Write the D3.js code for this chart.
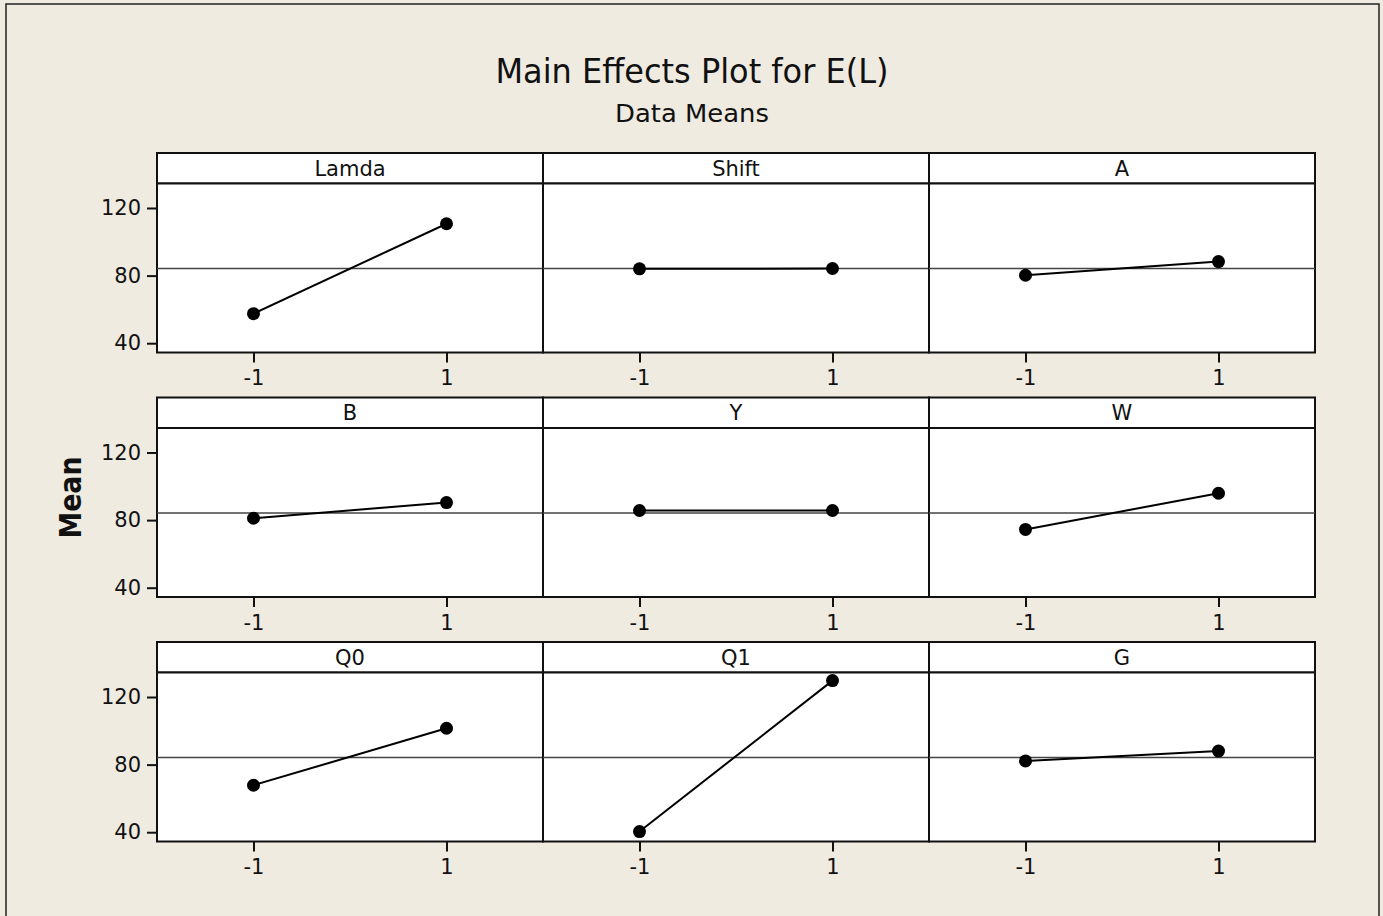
<!DOCTYPE html>
<html>
<head>
<meta charset="utf-8">
<script src="https://cdn.jsdelivr.net/npm/d3@7"></script>
<style>
  html, body { margin: 0; padding: 0; background: #efebe1; }
  svg { display: block; }
  text { font-family: "DejaVu Sans", Verdana, sans-serif; fill: #111; }
  .axis path { display: none; }
  .axis line { stroke: #111; stroke-width: 2; }
  .axis text { font-size: 21px; fill: #111; }
</style>
</head>
<body>
<div id="chart"></div>
<script>
// factor names, in panel order (3 x 3 grid)
var factors = ["Lamda", "Shift", "A", "B", "Y", "W", "Q0", "Q1", "G"];
var levels = [-1, 1];
// mean of E(L) at level -1 and at level 1
var meansLow  = [57.5, 84.0, 80.2, 81.1, 85.7, 74.5, 67.8, 40.4, 82.2];
var meansHigh = [110.7, 84.2, 88.3, 90.4, 85.7, 95.9, 101.5, 129.7, 88.0];
var grandMean = 84.2;
var yTicks = [40, 80, 120];
var xTicks = [-1, 1];

var W = 1383, H = 916;
var cellW = 386, stripH = 30.5, plotH = 169;
var left = 157, top0 = 153, rowStep = 244.5;
var ncol = 3;

var svg = d3.select("#chart").append("svg")
    .attr("width", W)
    .attr("height", H);

svg.append("rect")
    .attr("width", W).attr("height", H)
    .attr("fill", "#efebe1");
// outer frame
svg.append("rect")
    .attr("x", 6).attr("y", 4)
    .attr("width", 1373).attr("height", 930)
    .attr("fill", "none")
    .attr("stroke", "#222")
    .attr("stroke-width", 1.5);

svg.append("text")
    .attr("x", 692).attr("y", 83)
    .attr("text-anchor", "middle")
    .attr("font-size", 34)
    .attr("textLength", 393)
    .attr("lengthAdjust", "spacingAndGlyphs")
    .text("Main Effects Plot for E(L)");
svg.append("text")
    .attr("x", 692).attr("y", 122)
    .attr("text-anchor", "middle")
    .attr("font-size", 25)
    .attr("textLength", 154)
    .attr("lengthAdjust", "spacingAndGlyphs")
    .text("Data Means");
svg.append("text")
    .attr("transform", "translate(81,497.5) rotate(-90)")
    .attr("text-anchor", "middle")
    .attr("font-size", 31)
    .attr("font-weight", "bold")
    .attr("textLength", 82)
    .attr("lengthAdjust", "spacingAndGlyphs")
    .text("Mean");

var x = d3.scaleLinear().domain([-2, 2]).range([0, cellW]);
var y = d3.scaleLinear().domain([34.5, 134.5]).range([plotH, 0]);

var panels = factors.map(function(f, i) {
    return {
        name: f,
        col: i % ncol,
        row: Math.floor(i / ncol),
        pts: [{lvl: levels[0], m: meansLow[i]}, {lvl: levels[1], m: meansHigh[i]}]
    };
});

var g = svg.selectAll("g.panel")
    .data(panels)
    .enter().append("g")
    .attr("class", "panel")
    .attr("transform", function(d) {
        return "translate(" + (left + d.col * cellW) + "," + (top0 + d.row * rowStep) + ")";
    });

// strip
g.append("rect")
    .attr("width", cellW).attr("height", stripH)
    .attr("fill", "#fff")
    .attr("stroke", "#111").attr("stroke-width", 2);
g.append("text")
    .attr("x", cellW / 2).attr("y", stripH / 2 + 7.5)
    .attr("text-anchor", "middle")
    .attr("font-size", 21)
    .text(function(d) { return d.name; });

var p = g.append("g").attr("transform", "translate(0," + stripH + ")");
p.append("rect")
    .attr("width", cellW).attr("height", plotH)
    .attr("fill", "#fff")
    .attr("stroke", "#111").attr("stroke-width", 2);

// reference line at overall mean
p.append("line")
    .attr("x1", 0).attr("x2", cellW)
    .attr("y1", y(grandMean)).attr("y2", y(grandMean))
    .attr("stroke", "#444").attr("stroke-width", 1.6);

var line = d3.line()
    .x(function(d) { return x(d.lvl); })
    .y(function(d) { return y(d.m); });
p.append("path")
    .attr("d", function(d) { return line(d.pts); })
    .attr("fill", "none")
    .attr("stroke", "#000").attr("stroke-width", 2);
p.selectAll("circle")
    .data(function(d) { return d.pts; })
    .enter().append("circle")
    .attr("cx", function(d) { return x(d.lvl); })
    .attr("cy", function(d) { return y(d.m); })
    .attr("r", 6.5)
    .attr("fill", "#000");

// plain hyphen for negatives, like the original
var fmt = function(d) { return String(d); };

p.append("g")
    .attr("class", "axis")
    .attr("transform", "translate(0," + plotH + ")")
    .each(function() {
        d3.select(this).call(d3.axisBottom(x).tickValues(xTicks).tickFormat(fmt).tickSize(10).tickPadding(8));
    });

p.filter(function(d) { return d.col == 0; })
    .append("g")
    .attr("class", "axis")
    .call(d3.axisLeft(y).tickValues(yTicks).tickFormat(fmt).tickSize(10).tickPadding(6));
</script>
</body>
</html>
